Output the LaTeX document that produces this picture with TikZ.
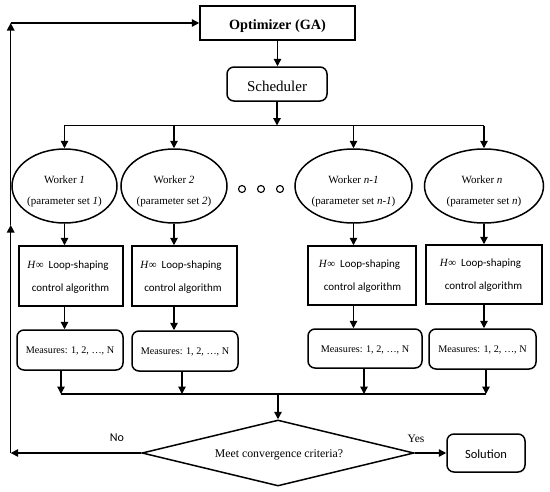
\documentclass[tikz,border=0pt]{standalone}
\usepackage{fontspec}
\setmainfont{Liberation Serif}
\newfontfamily\calib{Carlito}
\usetikzlibrary{shapes.geometric,arrows.meta}
\begin{document}
\begin{tikzpicture}[x=1pt,y=-1pt,
  line width=1.4pt,
  arr/.style={-{Triangle[length=7.5pt,width=7.5pt]}},
  sqbox/.style={draw,line width=1.5pt,inner sep=0pt,text depth=0pt},
  rbox/.style={draw,line width=1.5pt,rounded corners=7pt,inner sep=0pt,text depth=0pt},
  worker/.style={draw,ellipse,line width=1.5pt,inner sep=0pt,minimum height=74pt},
  wtxt/.style={font=\fontsize{11}{13}\selectfont,anchor=base,inner sep=0pt},
  htxt/.style={font=\calib\fontsize{11}{13}\selectfont,anchor=base,inner sep=0pt},
  mtxt/.style={font=\fontsize{10.2}{12}\selectfont},
  dotc/.style={draw,circle,line width=1.1pt,minimum size=7pt,inner sep=0pt}
]
\useasboundingbox (0,0) rectangle (550,491);

% top boxes
\node[sqbox,minimum width=155pt,minimum height=34pt,text height=12.6pt,
      font=\bfseries\fontsize{14.2}{16}\selectfont] (opt) at (277.5,23) {Optimizer (GA)};
\node[rbox,minimum width=100pt,minimum height=34pt,text height=15.4pt,
      font=\fontsize{15}{17}\selectfont] (sch) at (277,84) {Scheduler};

% workers
\node[worker,minimum width=105pt] (w1) at (64.5,186) {};
\node[worker,minimum width=106pt] (w2) at (174,186) {};
\node[worker,minimum width=117pt] (w3) at (353.5,186) {};
\node[worker,minimum width=119pt] (w4) at (484,186) {};

\node[wtxt] (w1a) at (64.5,183) {Worker \textit{1}};
\node[wtxt] (w1b) at (64.5,204) {(parameter set \textit{1})};
\node[wtxt] (w2a) at (174,183) {Worker \textit{2}};
\node[wtxt] (w2b) at (174,204) {(parameter set \textit{2})};
\node[wtxt] (w3a) at (353.5,183) {Worker \textit{n-1}};
\node[wtxt] (w3b) at (353.5,204) {(parameter set \textit{n-1})};
\node[wtxt] (w4a) at (482,183) {Worker \textit{n}};
\node[wtxt] (w4b) at (484,204) {(parameter set \textit{n})};

% dots
\node[dotc] (d1) at (242,189) {};
\node[dotc] (d2) at (261,189) {};
\node[dotc] (d3) at (280,189) {};

% H-infinity boxes
\node[sqbox,minimum width=104pt,minimum height=60pt] (h1) at (71,276) {};
\node[sqbox,minimum width=105pt,minimum height=60pt] (h2) at (184.5,276) {};
\node[sqbox,minimum width=108pt,minimum height=59pt] (h3) at (362,275.5) {};
\node[sqbox,minimum width=116pt,minimum height=59pt] (h4) at (484,274.5) {};

\node[htxt] (h1a) at (68,268) {{\rmfamily\textit{H}∞}\ \ Loop-shaping};
\node[htxt] (h1b) at (70.5,291) {control algorithm};
\node[htxt] (h2a) at (181,268) {{\rmfamily\textit{H}∞}\ \ Loop-shaping};
\node[htxt] (h2b) at (183,291) {control algorithm};
\node[htxt] (h3a) at (359.5,267.5) {{\rmfamily\textit{H}∞}\ \ Loop-shaping};
\node[htxt] (h3b) at (362.5,290.5) {control algorithm};
\node[htxt] (h4a) at (480.5,266.5) {{\rmfamily\textit{H}∞}\ \ Loop-shaping};
\node[htxt] (h4b) at (483.5,289.5) {control algorithm};

% measures
\node[rbox,mtxt,minimum width=106pt,minimum height=40pt,text height=6.5pt] (m1) at (70,350) {Measures: 1, 2, …, N};
\node[rbox,mtxt,minimum width=106pt,minimum height=40pt,text height=6.5pt] (m2) at (185,351) {Measures: 1, 2, …, N};
\node[rbox,mtxt,minimum width=114pt,minimum height=39pt,text height=7pt] (m3) at (365,348.5) {Measures: 1, 2, …, N};
\node[rbox,mtxt,minimum width=107pt,minimum height=40pt,text height=7pt] (m4) at (482.5,349) {Measures: 1, 2, …, N};

% decision and solution
\node[draw,diamond,line width=1.5pt,minimum width=272pt,minimum height=66pt,inner sep=0pt] (dia) at (278,453) {};
\node[font=\fontsize{11.8}{14}\selectfont,anchor=base,inner sep=0pt] (dtxt) at (279,457) {Meet convergence criteria?};
\node[rbox,minimum width=78pt,minimum height=38pt,text height=10pt,
      font=\calib\fontsize{12.5}{14}\selectfont] (sol) at (486,453) {Solution};
\node[font=\calib\fontsize{12}{14}\selectfont,anchor=base,inner sep=0pt] (no) at (117,441.5) {No};
\node[font=\fontsize{11.5}{14}\selectfont,anchor=base,inner sep=0pt] (yes) at (416,442.5) {Yes};

% coordinates
\coordinate (t1) at (64,125.5);
\coordinate (t4) at (484,125.5);
\coordinate (c1) at (61,394);
\coordinate (c2) at (182,394);
\coordinate (c3) at (364,394);
\coordinate (c4) at (486,394);
\coordinate (fbB) at (10.7,453);
\coordinate (fbM) at (10.7,225);
\coordinate (fbT) at (10.7,23);

% connectors
\draw[arr] (opt.south) -- (opt.south |- sch.north);
\draw[arr] (sch.south) -- (sch.south |- t1);
\draw (t1) -- (t4);
\foreach \w/\h/\m in {w1/h1/m1,w2/h2/m2,w3/h3/m3,w4/h4/m4}{
  \draw[arr] (\w.north |- t1) -- (\w.north);
  \draw[arr] (\w.south) -- (\w.south |- \h.north);
  \draw[arr] (\w.south |- \h.south) -- (\w.south |- \m.north);
}
\draw[arr] (m1.south -| c1) -- (c1);
\draw[arr] (m2.south -| c2) -- (c2);
\draw[arr] (m3.south -| c3) -- (c3);
\draw[arr] (m4.south -| c4) -- (c4);
\draw (c1) -- (c4);
\draw[arr] (dia.north |- c1) -- (dia.north);
\draw[arr] (dia.east) -- (sol.west);
\draw[arr] (dia.west) -- (fbB);
\draw[arr] (fbB) -- (fbM);
\draw[arr] (fbM) -- (fbT);
\draw[arr] (fbT) -- (opt.west);
\end{tikzpicture}
\end{document}
